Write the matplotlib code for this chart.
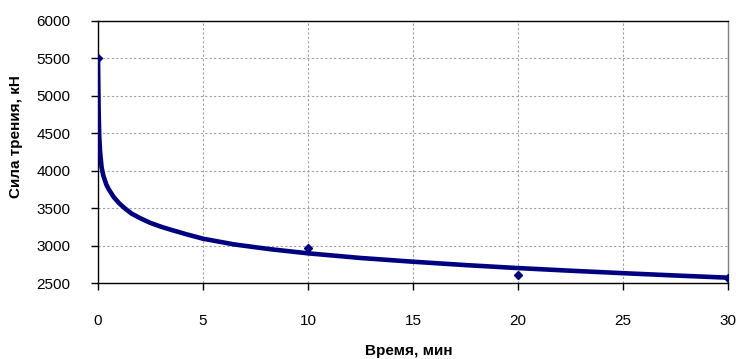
import matplotlib
matplotlib.use("Agg")
import matplotlib.pyplot as plt

# Fitted curve
curve_t = [0, 0.03, 0.06, 0.1, 0.17, 0.25, 0.4, 0.5, 0.75, 1.0, 1.3, 1.6, 2.0, 2.5, 3.0, 3.5,
           4.2, 5.0, 6.5, 8.2, 10.0, 12.5, 15.0, 17.5, 20.0, 22.5, 25.0, 27.5, 30.0]
curve_f = [5500, 4800, 4450, 4250, 4050, 3940, 3815, 3760, 3650, 3570, 3495, 3430,
           3370, 3305, 3255, 3212, 3155, 3095, 3018, 2955, 2900, 2838, 2788, 2743,
           2703, 2668, 2635, 2604, 2575]

# Measured points
meas_t = [0, 10, 20, 30]
meas_f = [5500, 2975, 2612, 2570]

xticks = [0, 5, 10, 15, 20, 25, 30]
yticks = [2500, 3000, 3500, 4000, 4500, 5000, 5500, 6000]

plt.rcParams['font.family'] = ['Liberation Sans', 'DejaVu Sans']

fig = plt.figure(figsize=(7.36, 3.59), dpi=100)
ax = fig.add_axes([98/736, 1-283.3/359, (728-98)/736, (283.3-21)/359])

ax.plot(curve_t, curve_f, color='#000080', lw=3.3, solid_capstyle='round',
        solid_joinstyle='round', zorder=3)
ax.plot(meas_t, meas_f, linestyle='none', marker='D', ms=4, color='#000080', zorder=4)

ax.set_xlim(0, 30)
ax.set_ylim(2500, 6000)
ax.set_xticks(xticks)
ax.set_yticks(yticks)
ax.tick_params(axis='y', direction='out', length=5, width=1, pad=15, labelsize=11)
ax.tick_params(axis='x', direction='out', length=5, width=1, pad=17, labelsize=11)

ax.grid(True, color='#a0a0a0', linestyle=(0, (2, 2)), linewidth=0.8, zorder=0)
ax.set_axisbelow(True)

for s in ['left', 'bottom', 'top']:
    ax.spines[s].set_color('black')
    ax.spines[s].set_linewidth(1)
ax.spines['right'].set_color('#808080')
ax.spines['right'].set_linewidth(1)

fig.text(16/736, 1-137/359, 'Сила трения, кН', rotation=90, ha='center', va='center',
         fontsize=11, fontweight='bold')
fig.text(409/736, 1-351/359, 'Время, мин', ha='center', va='center',
         fontsize=11, fontweight='bold')

fig.savefig('out.png', dpi=100)
